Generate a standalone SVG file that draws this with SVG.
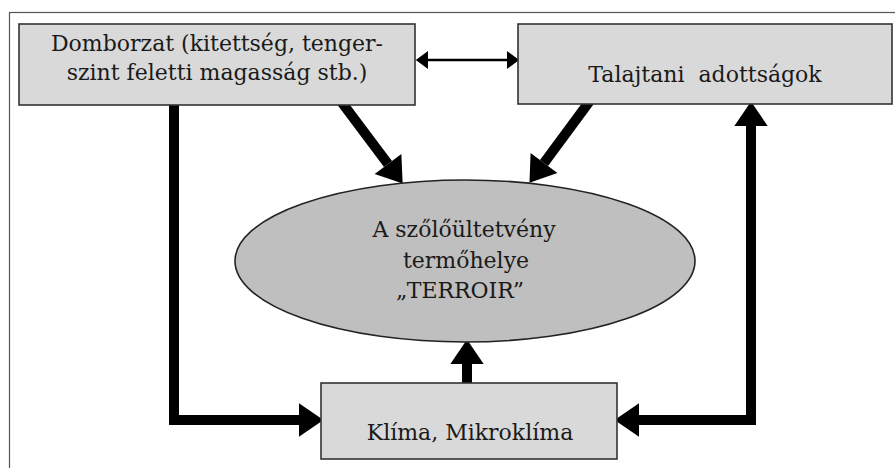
<svg xmlns="http://www.w3.org/2000/svg" width="895" height="468" viewBox="0 0 895 468">
<style>
.frame{fill:none;stroke:#555;stroke-width:1.2}
.box{fill:#d9d9d9;stroke:#333;stroke-width:1.6}
.ell{fill:#bfbfbf;stroke:#222;stroke-width:1.6}
.t{font-family:"DejaVu Serif","Liberation Serif",serif;font-size:22px;fill:#1a1a1a;text-anchor:middle}
.thick{fill:none;stroke:#000;stroke-width:10;stroke-linejoin:miter}
.thin{fill:none;stroke:#000;stroke-width:2.6}
</style>
<defs>
<marker id="head" markerUnits="userSpaceOnUse" markerWidth="30" markerHeight="40" viewBox="0 -18 24 36" refX="0" refY="0" orient="auto-start-reverse">
<path d="M0,-15 L22,0 L0,15 Z" fill="#000"/>
</marker>
<marker id="small" markerUnits="userSpaceOnUse" markerWidth="14" markerHeight="20" viewBox="0 -9 12 18" refX="0" refY="0" orient="auto-start-reverse">
<path d="M0,-8 L11,0 L0,8 Z" fill="#000"/>
</marker>
</defs>
<rect class="frame" x="9.5" y="12.5" width="900" height="470"/>
<g id="connectors">
<path class="thin" d="M428,60 H507" marker-start="url(#small)" marker-end="url(#small)"/>
<path class="thick" d="M340,100 L388,164" marker-end="url(#head)"/>
<path class="thick" d="M592,98 L544,163" marker-end="url(#head)"/>
<path class="thick" d="M467,384 V364" marker-end="url(#head)"/>
<path class="thick" d="M174,100 V420 H299" marker-end="url(#head)"/>
<path class="thick" d="M639,420 H751 V126" marker-start="url(#head)" marker-end="url(#head)"/>
</g>
<g id="domborzat">
<rect class="box" x="19" y="24" width="396" height="81"/>
<text class="t" x="217" y="51">Domborzat (kitettség, tenger-</text>
<text class="t" x="217" y="80">szint feletti magasság stb.)</text>
</g>
<g id="talaj">
<rect class="box" x="518" y="24" width="374" height="80"/>
<text class="t" x="705" y="82" xml:space="preserve">Talajtani  adottságok</text>
</g>
<g id="terroir">
<ellipse class="ell" cx="465" cy="261" rx="230" ry="81"/>
<text class="t" x="464" y="237">A szőlőültetvény</text>
<text class="t" x="466" y="268">termőhelye</text>
<text class="t" x="460" y="298">„TERROIR”</text>
</g>
<g id="klima">
<rect class="box" x="321" y="383" width="296" height="76"/>
<text class="t" x="470" y="440">Klíma, Mikroklíma</text>
</g>
</svg>
